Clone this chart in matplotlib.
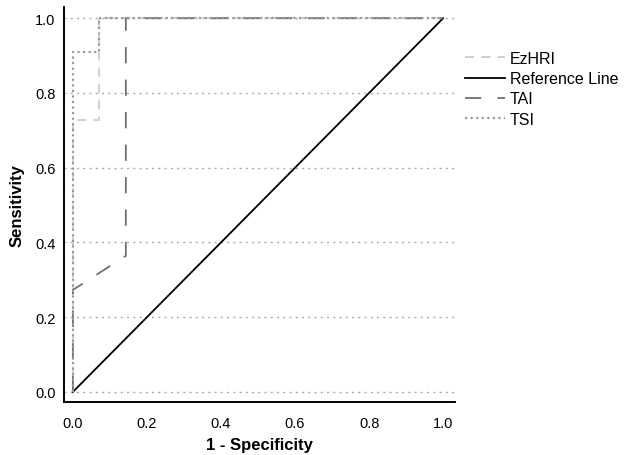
import matplotlib
matplotlib.use("Agg")
import matplotlib.pyplot as plt

plt.rcParams['font.family'] = ['Liberation Sans', 'DejaVu Sans']

ezhri_fpr = [0.0, 0.0, 0.0714, 0.0714, 1.0]
ezhri_tpr = [0.0, 0.727, 0.727, 1.0, 1.0]
tai_fpr = [0.0, 0.0, 0.143, 0.143, 1.0]
tai_tpr = [0.0, 0.273, 0.364, 1.0, 1.0]
tsi_fpr = [0.0, 0.0, 0.0714, 0.0714, 1.0]
tsi_tpr = [0.0, 0.909, 0.909, 1.0, 1.0]
ref = [0.0, 1.0]
ticks = [0.0, 0.2, 0.4, 0.6, 0.8, 1.0]

fig = plt.figure(figsize=(6.27, 4.56), dpi=100)
ax = fig.add_axes([64/627, 53/456, (455-64)/627, (403-8)/456])

for t in ticks:
    ax.axhline(t, color='#aaaaaa', linestyle=(0, (1.5, 3)), linewidth=1.0, zorder=0)

ax.plot(ezhri_fpr, ezhri_tpr, color='#cccccc', linestyle=(0, (5, 4)), linewidth=1.3, label='EzHRI')
ax.plot(ref, ref, color='black', linestyle='-', linewidth=1.3, label='Reference Line')
ax.plot(tai_fpr, tai_tpr, color='#707070', linestyle=(0, (9, 9)), linewidth=1.3, label='TAI')
ax.plot(tsi_fpr, tsi_tpr, color='#999999', linestyle=(0, (1, 1.5)), linewidth=1.6, label='TSI')

ax.set_xlim(-0.024, 1.032)
ax.set_ylim(-0.027, 1.03)
ax.set_xticks(ticks)
ax.set_yticks(ticks)
ax.set_xticklabels([f"{t:.1f}" for t in ticks])
ax.set_yticklabels([f"{t:.1f}" for t in ticks])
ax.tick_params(labelsize=10.5, length=0)
ax.tick_params(axis='x', pad=10)
ax.tick_params(axis='y', pad=6)
for s in ['top', 'right']:
    ax.spines[s].set_visible(False)
ax.spines['left'].set_linewidth(1.4)
ax.spines['bottom'].set_linewidth(1.4)
ax.set_xlabel('1 - Specificity', fontsize=12, fontweight='bold', labelpad=5)
ax.set_ylabel('Sensitivity', fontsize=12, fontweight='bold', labelpad=8)

leg = ax.legend(loc='upper left', bbox_to_anchor=(1.01, 0.905), frameon=False,
                fontsize=11.5, handlelength=2.5, handletextpad=0.3, labelspacing=0.33,
                borderaxespad=0.0)

fig.savefig('out.png', dpi=100)
